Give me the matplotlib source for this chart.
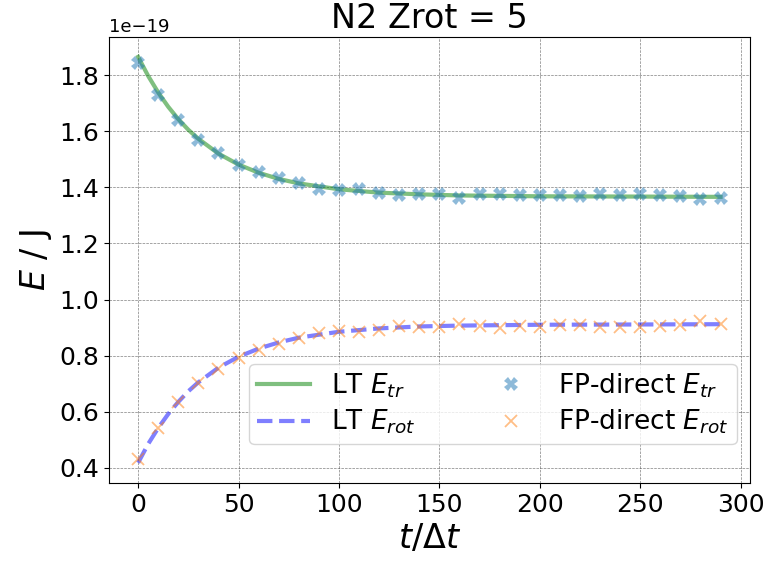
import matplotlib
matplotlib.use("Agg")
import matplotlib.pyplot as plt

# LT (Landau-Teller) relaxation curves, energy in units of 1e-19 J
t_lt = [0, 5, 10, 15, 20, 25, 30, 40, 50, 60, 70, 80, 100, 120, 140, 160, 200, 250, 290]
E_tr_lt = [1.865, 1.797, 1.738, 1.687, 1.643, 1.605, 1.573, 1.520, 1.481, 1.452,
           1.430, 1.414, 1.393, 1.381, 1.375, 1.371, 1.368, 1.367, 1.366]
E_rot_lt = [0.418, 0.485, 0.542, 0.592, 0.635, 0.673, 0.705, 0.757, 0.796, 0.825,
            0.847, 0.864, 0.885, 0.897, 0.904, 0.907, 0.910, 0.911, 0.912]

# FP-direct samples
t_fp = [0, 10, 20, 30, 40, 50, 60, 70, 80, 90, 100, 110, 120, 130, 140,
        150, 160, 170, 180, 190, 200, 210, 220, 230, 240, 250, 260, 270, 280, 290]
E_tr_fp = [1.843, 1.729, 1.640, 1.570, 1.5225, 1.481, 1.455, 1.432, 1.414, 1.394,
           1.391, 1.393, 1.381, 1.373, 1.375, 1.375, 1.362, 1.375, 1.377, 1.373,
           1.373, 1.371, 1.368, 1.375, 1.374, 1.375, 1.373, 1.369, 1.357, 1.362]
E_rot_fp = [0.430, 0.543, 0.635, 0.703, 0.752, 0.793, 0.820, 0.843, 0.862, 0.879,
            0.886, 0.8835, 0.893, 0.906, 0.901, 0.901, 0.9135, 0.906, 0.899, 0.904,
            0.903, 0.9075, 0.910, 0.903, 0.903, 0.901, 0.904, 0.910, 0.922, 0.9135]

scale = 1e-19

fig = plt.figure(figsize=(7.65, 5.63), dpi=100)
ax = fig.add_axes([0.1425, 0.142, 0.8375, 0.793])

ax.plot(t_lt, [v * scale for v in E_tr_lt], c='green', alpha=0.5, lw=3, label=r'LT $E_{tr}$')
ax.plot(t_lt, [v * scale for v in E_rot_lt], c='blue', alpha=0.5, lw=3, ls='--', label=r'LT $E_{rot}$')
ax.plot(t_fp, [v * scale for v in E_tr_fp], 'X', c='tab:blue', alpha=0.5, ms=10, mew=0, label=r'FP-direct $E_{tr}$')
ax.plot(t_fp, [v * scale for v in E_rot_fp], 'x', c='tab:orange', alpha=0.5, ms=9, mew=1.3, label=r'FP-direct $E_{rot}$')

ax.grid(color='k', ls='--', lw=0.5, alpha=0.5)
ax.set_title('N2 Zrot = 5', fontsize=24)
ax.set_xlabel(r'$t/\Delta t$', fontsize=24)
ax.set_ylabel(r'$E$ / J', fontsize=24)
ax.tick_params(labelsize=18)
ax.yaxis.get_offset_text().set_fontsize(13)
ax.legend(ncol=2, fontsize=19, loc='lower right', bbox_to_anchor=(1.0, 0.057),
          labelspacing=0.3, borderpad=0.3, columnspacing=2.6)

fig.savefig('out.png', dpi=100)
